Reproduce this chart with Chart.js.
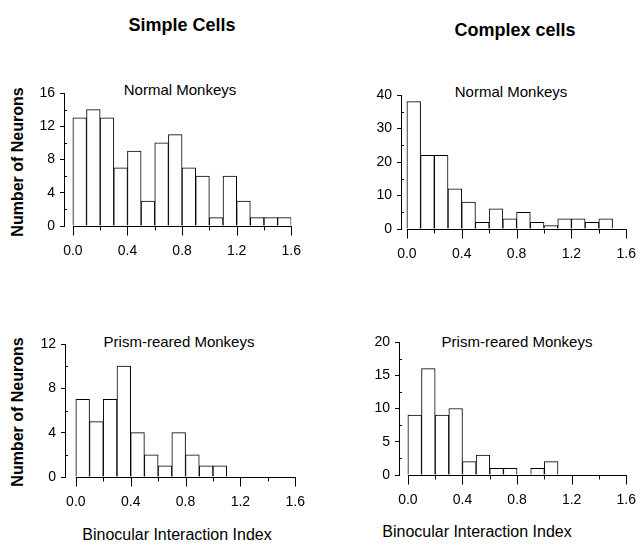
<!DOCTYPE html>
<html>
<head>
<meta charset="utf-8">
<script src="https://cdn.jsdelivr.net/npm/chart.js@4/dist/chart.umd.min.js"></script>
<style>
  html, body { margin: 0; padding: 0; background: #fff; width: 641px; height: 547px; overflow: hidden; }
  body { position: relative; font-family: "Liberation Sans", Arial, sans-serif; color: #000; }
  canvas { position: absolute; }
  .t { position: absolute; white-space: nowrap; line-height: 1; transform: translateX(-50%); }
  .head { font-weight: bold; font-size: 18px; }
  .sub { font-size: 15px; }
  .xlab { font-size: 16px; }
  .ylab { position: absolute; white-space: nowrap; line-height: 1; font-weight: bold; font-size: 16px;
          transform: translate(-50%, -50%) rotate(-90deg); }
</style>
</head>
<body>

<div class="t head" style="left:182px; top:16px;">Simple Cells</div>
<div class="t head" style="left:515px; top:21px;">Complex cells</div>

<div class="t sub" style="left:180px; top:82px;">Normal Monkeys</div>
<div class="t sub" style="left:511px; top:84px;">Normal Monkeys</div>
<div class="t sub" style="left:179px; top:334px;">Prism-reared Monkeys</div>
<div class="t sub" style="left:517px; top:334px;">Prism-reared Monkeys</div>

<div class="ylab" style="left:18px; top:162px;">Number of Neurons</div>
<div class="ylab" style="left:18px; top:412px;">Number of Neurons</div>

<div class="t xlab" style="left:177px; top:527px;">Binocular Interaction Index</div>
<div class="t xlab" style="left:477px; top:524px;">Binocular Interaction Index</div>

<canvas id="simpleNormal"></canvas>
<canvas id="complexNormal"></canvas>
<canvas id="simplePrism"></canvas>
<canvas id="complexPrism"></canvas>

<script>
// left edge of each 0.1-wide bin of the interaction index
const binStart = [0.0, 0.1, 0.2, 0.3, 0.4, 0.5, 0.6, 0.7, 0.8, 0.9, 1.0, 1.1, 1.2, 1.3, 1.4, 1.5];
const xTicks = [0.0, 0.4, 0.8, 1.2, 1.6];
const xMinorTicks = [0.2, 0.6, 1.0, 1.4];

// neuron counts per bin
const simpleNormal  = [13, 14, 13, 7, 9, 3, 10, 11, 7, 6, 1, 6, 3, 1, 1, 1];
const complexNormal = [38, 22, 22, 12, 8, 2, 6, 3, 5, 2, 1, 3, 3, 2, 3, 0];
const simplePrism   = [7, 5, 7, 10, 4, 2, 1, 4, 2, 1, 1, 0, 0, 0, 0, 0];
const complexPrism  = [9, 16, 9, 10, 2, 3, 1, 1, 0, 1, 2, 0, 0, 0, 0, 0];

const FONT = "'Liberation Sans', Arial, sans-serif";
const PAD = { left: 40, top: 20, right: 16, bottom: 32 };

// x baseline from 0 to 1.6 with its tick marks, plus small minor ticks on y
const axisExtras = {
  id: "axisExtras",
  afterDraw(chart) {
    const { ctx, chartArea, scales: { x, y } } = chart;
    const y0 = Math.round(chartArea.bottom) + 0.5;
    ctx.save();
    ctx.strokeStyle = "#000";
    ctx.lineWidth = 1;
    ctx.beginPath();
    ctx.moveTo(x.getPixelForValue(0), y0);
    ctx.lineTo(x.getPixelForValue(1.6) + 0.5, y0);
    for (const v of xTicks) {
      const px = Math.round(x.getPixelForValue(v)) + 0.5;
      ctx.moveTo(px, y0);
      ctx.lineTo(px, y0 + 9);
    }
    for (const v of xMinorTicks) {
      const px = Math.round(x.getPixelForValue(v)) + 0.5;
      ctx.moveTo(px, y0);
      ctx.lineTo(px, y0 + 4);
    }
    const step = chart.options.scales.y.ticks.stepSize;
    for (let v = step / 2; v < y.max; v += step) {
      const py = Math.round(y.getPixelForValue(v)) + 0.5;
      ctx.moveTo(chartArea.left, py);
      ctx.lineTo(chartArea.left + 3, py);
    }
    ctx.stroke();
    ctx.restore();
  }
};

function histogram(id, box, counts, yMax, yStep, xMin) {
  const canvas = document.getElementById(id);
  canvas.width = box.right - box.left + PAD.left + PAD.right;
  canvas.height = box.bottom - box.top + PAD.top + PAD.bottom;
  canvas.style.left = (box.left - PAD.left) + "px";
  canvas.style.top = (box.top - PAD.top) + "px";

  new Chart(canvas, {
    type: "bar",
    data: {
      datasets: [{
        data: counts.map((c, i) => ({ x: binStart[i] + 0.05, y: c })),
        backgroundColor: "#fff",
        borderColor: "#000",
        borderWidth: 1,
        barPercentage: 1,
        categoryPercentage: 1
      }]
    },
    options: {
      responsive: false,
      animation: false,
      devicePixelRatio: 1,
      layout: { padding: { left: 0, top: PAD.top, right: PAD.right, bottom: 0 } },
      plugins: { legend: { display: false }, tooltip: { enabled: false } },
      scales: {
        x: {
          type: "linear",
          offset: false,
          min: xMin,
          max: 1.6,
          afterBuildTicks: s => { s.ticks = xTicks.map(v => ({ value: v })); },
          afterFit: s => { s.height = PAD.bottom; },
          ticks: {
            callback: v => v.toFixed(1),
            color: "#000",
            font: { family: FONT, size: 14 },
            padding: 9,
            maxRotation: 0,
            autoSkip: false
          },
          grid: { display: false },
          border: { display: false }
        },
        y: {
          min: 0,
          max: yMax,
          afterFit: s => { s.width = PAD.left; },
          ticks: {
            stepSize: yStep,
            color: "#000",
            font: { family: FONT, size: 14 },
            padding: 5
          },
          grid: { drawOnChartArea: false, tickLength: 4, color: "#000" },
          border: { display: true, color: "#000", width: 1 }
        }
      }
    },
    plugins: [axisExtras]
  });
}

histogram("simpleNormal",  { left: 64,  top: 93,  right: 294, bottom: 226 }, simpleNormal,  16, 4,  -0.065);
histogram("complexNormal", { left: 401, top: 95,  right: 629, bottom: 229 }, complexNormal, 40, 10, -0.043);
histogram("simplePrism",   { left: 65,  top: 344, right: 298, bottom: 477 }, simplePrism,   12, 4,  -0.079);
histogram("complexPrism",  { left: 399, top: 342, right: 629, bottom: 475 }, complexPrism,  20, 5,  -0.065);
</script>
</body>
</html>
